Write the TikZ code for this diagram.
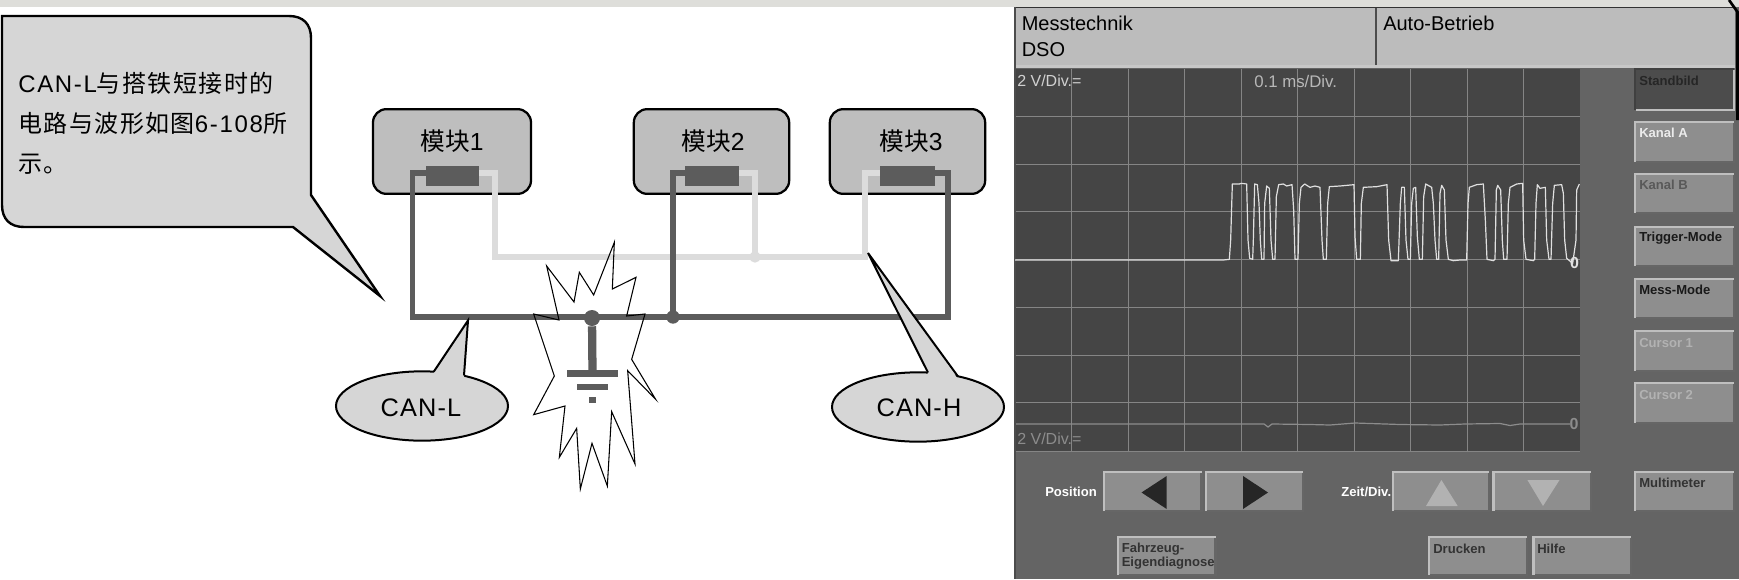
\documentclass[tikz,border=0pt]{standalone}
\usepackage{fontspec}
\setmainfont{Liberation Sans}
\newfontfamily\cjk{Noto Sans CJK SC}
\newfontfamily\cjks[LetterSpace=6]{Noto Sans CJK SC}
\newfontfamily\lats[LetterSpace=7]{Liberation Sans}
\usetikzlibrary{shapes.geometric}
\definecolor{strip}{HTML}{DEDEDA}
\definecolor{bubble}{HTML}{D6D6D6}
\definecolor{modfill}{HTML}{BEBEBE}
\definecolor{darkw}{HTML}{5C5C5C}
\definecolor{lightw}{HTML}{DCDCDC}
\definecolor{header}{HTML}{BCBCBC}
\definecolor{panel}{HTML}{646464}
\definecolor{screen}{HTML}{454545}
\definecolor{gridc}{HTML}{858585}
\definecolor{btnfill}{HTML}{8E8E8E}
\tikzset{
  bubbleline/.style={draw=black,line width=1.8pt,fill=bubble,line join=miter},
  modbox/.style={draw=black,line width=1.7pt,fill=modfill,rounded corners=10pt,minimum width=116.5pt,minimum height=63.5pt,inner sep=0pt},
  chip/.style={fill=darkw,draw=none,inner sep=0pt,minimum width=40pt,minimum height=15pt},
  modlabel/.style={inner sep=0pt,font=\fontsize{18.5}{18.5}\selectfont},
  canl/.style={draw=darkw,line width=3.8pt,line join=miter},
  canh/.style={draw=lightw,line width=3.8pt,line join=miter},
  ell/.style={ellipse,draw=black,line width=1.5pt,fill=bubble,inner sep=0pt,minimum width=129pt,minimum height=52pt},
  elltext/.style={inner sep=0pt,font=\fontsize{19}{19}\selectfont\addfontfeature{LetterSpace=4.5}},
  calltext/.style={anchor=west,inner sep=0pt,font=\fontsize{18}{18}\selectfont},
  headtext/.style={anchor=west,inner sep=0pt,font=\fontsize{15}{15}\selectfont,text=black},
  scrtext/.style={anchor=west,inner sep=0pt,font=\fontsize{12}{12}\selectfont},
  btntext/.style={anchor=west,inner sep=0pt,font=\bfseries\fontsize{9.8}{9.8}\selectfont},
  gridline/.style={draw=gridc,line width=0.75pt},
  btnface/.style={fill=btnfill,draw=none},
}
% name, x1, y1, x2, y2
\newcommand{\panelbtn}[5]{%
  \path[btnface] (#2,#3) rectangle (#4,#5);
  \coordinate (#1) at (#2,#3);
  \draw[draw=black!60,line width=1.6pt] (#2+1,#5) -- (#4,#5) -- (#4,#3+1);
  \draw[draw=black!25,line width=1.6pt] (#2,#5) -- (#2,#3) -- (#4,#3);
}
\newcommand{\pressedbtn}[5]{%
  \path[fill=black!70] (#2,#3) rectangle (#4,#5);
  \coordinate (#1) at (#2,#3);
  \draw[draw=black!25,line width=2pt] (#2+1,#5) -- (#4,#5) -- (#4,#3+1);
  \draw[draw=black!75,line width=1.6pt] (#2,#5) -- (#2,#3) -- (#4,#3);
}
\begin{document}
\begin{tikzpicture}[x=0.75pt,y=-0.75pt]
\useasboundingbox (0,0) rectangle (1739,579);
\fill[white] (0,0) rectangle (1739,579);
\fill[strip] (0,0) rectangle (1739,6.5);
% callout
\path[bubbleline] (2,16) -- (289,16) .. controls (303,16) and (311,24) .. (311,38)
  -- (311,195) -- (380,296) -- (293,227) -- (24,227)
  .. controls (10,227) and (2,219) .. (2,205) -- cycle;
\node[calltext] (c1) at (18,83) {\lats CAN-L\cjks 与搭铁短接时的};
\node[calltext] (c2) at (18,123) {\cjks 电路与波形如图\lats 6-108\cjks 所};
\node[calltext] (c3) at (18,164) {\cjks 示。};
% lightning star, white interior
\begin{scope}[shift={(500,90)},x=0.25pt,y=-0.25pt]
\fill[white] (343,457)--(337,597)--(408,562)--(380,678)--(435,672)--(395,808)--(467,928)--(383,842)--(405,1122)--(335,965)--(322,1188)--(276,1060)--(241,1197)--(230,1015)--(178,1102)--(195,948)--(101,974)--(163,858)--(101,672)--(177,690)--(140,528)--(222,636)--(238,547)--(281,615)--cycle;
\end{scope}
% modules
\node[modbox,minimum width=118.5pt] (m1) at (452,151.5) {};
\node[modbox] (m2) at (711.5,151.5) {};
\node[modbox] (m3) at (907.5,151.5) {};
\node[modlabel] (l1) at (452,141) {\cjk 模块\normalfont 1};
\node[modlabel] (l2) at (713,141) {\cjk 模块\normalfont 2};
\node[modlabel] (l3) at (911,141) {\cjk 模块\normalfont 3};
% wire coordinates
\coordinate (a1) at (412.5,173); \coordinate (b1) at (412.5,317);
\coordinate (a2) at (673,173);   \coordinate (b2) at (673,317);
\coordinate (a3) at (948,173);   \coordinate (b3) at (948,317);
\coordinate (h1) at (495,173);   \coordinate (g1) at (495,257);
\coordinate (h2) at (755,173);   \coordinate (g2) at (755,257);
\coordinate (h3) at (865,173);   \coordinate (g3) at (865,257);
% CAN-H wires
\draw[canh] (445,173) -- (h1) -- (g1) -- (g3) -- (h3) -- (885,173);
\draw[canh] (735,173) -- (h2) -- (g2);
\node[circle,fill=lightw,inner sep=0pt,minimum size=8.5pt] (j2) at (g2) {};
% CAN-L wires
\draw[canl] (430,173) -- (a1) -- (b1) -- (b3) -- (a3) -- (930,173);
\draw[canl] (690,173) -- (a2) -- (b2);
\node[circle,fill=darkw,inner sep=0pt,minimum size=10pt] (j1) at (b2) {};
\node[chip,minimum width=40pt] (i1) at (452.5,176) {};
\node[chip,minimum width=40.5pt] (i2) at (712,176) {};
\node[chip,minimum width=41pt] (i3) at (907.5,176) {};
% star outline
\begin{scope}[shift={(500,90)},x=0.25pt,y=-0.25pt]
\draw[black,line width=0.8pt,line join=miter] (343,457)--(337,597)--(408,562)--(380,678)--(435,672)--(395,808)--(467,928)--(383,842)--(405,1122)--(335,965)--(322,1188)--(276,1060)--(241,1197)--(230,1015)--(178,1102)--(195,948)--(101,974)--(163,858)--(101,672)--(177,690)--(140,528)--(222,636)--(238,547)--(281,615)--cycle;
\end{scope}
% ground
\node[circle,fill=darkw,inner sep=0pt,minimum size=12pt] (gdot) at (592,318) {};
\node[fill=darkw,inner sep=0pt,minimum width=38.5pt,minimum height=5pt] (g1bar) at (592.5,373.5) {};
\node[fill=darkw,inner sep=0pt,minimum width=23pt,minimum height=4.5pt] (g2bar) at (592.5,387) {};
\node[fill=darkw,inner sep=0pt,minimum width=5.5pt,minimum height=4.5pt] (g3bar) at (592.5,400) {};
\draw[draw=darkw,line width=6.2pt] (gdot) -- (g1bar);
% CAN-L bubble
\node[ell] (el) at (422,406) {};
\coordinate (tl) at (468,320.5);
\fill[bubble] (434,373) -- (tl) -- (464,378) -- cycle;
\draw[black,line width=1.5pt,line join=miter] (434,371.3) -- (tl) -- (464,375.5);
\node[elltext] (elt) at (421,408) {CAN-L};
% CAN-H bubble
\node[ell] (eh) at (918,407) {};
\coordinate (th) at (868,253);
\fill[bubble] (928,374) -- (th) -- (958,379) -- cycle;
\draw[black,line width=1.5pt,line join=miter] (928,372.5) -- (th) -- (958,376.5);
\node[elltext] (eht) at (919,408) {CAN-H};
%
% ---------- right panel ----------
\fill[panel] (1014,7) rectangle (1739,579);
\fill[header] (1015,8) rectangle (1735,65);
\fill[black!22] (1015,65) rectangle (1735,68);
\draw[black!80,line width=0.9pt] (1014.5,7.5) -- (1735,7.5);
\draw[black!70,line width=1.5pt] (1014.5,7) -- (1014.5,579);
\draw[black!70,line width=0.9pt] (1376,8) -- (1376,65);
\draw[black,line width=2pt] (1729,0) -- (1737.5,12) -- (1737.5,120);
\node[headtext] (t1) at (1021.5,23) {Messtechnik};
\node[headtext] (t2) at (1021.5,50) {DSO};
\node[headtext] (t3) at (1383,23) {Auto-Betrieb};
% screen
\fill[screen] (1015.5,69) rectangle (1579.5,451);
\foreach \gx in {1071.8,1128.5,1184.8,1241.5,1297.3,1354,1410.3,1467,1523.7}
  \draw[gridline] (\gx,69) -- (\gx,451);
\foreach \gy in {116.7,164.3,211.7,259.3,307.3,355,402.3,451}
  \draw[gridline] (1015.5,\gy) -- (1579.5,\gy);
% lower trace
\draw[black!45,line width=0.9pt] (1016,424) -- (1230,424) -- (1264,424) -- (1268,427) -- (1272,424) -- (1310,424.5) -- (1330,425) -- (1355,423) -- (1400,424.5) -- (1440,425) -- (1465,424) -- (1500,423.5) -- (1510,425.5) -- (1520,424) -- (1570,424);
% upper trace, in units of a 3x crop
\begin{scope}[shift={(1200,170)},x=0.25pt,y=-0.25pt]
\draw[black!12,line width=0.9pt,line join=round]
 (-555,270) -- (70,270) -- (88,268) -- (92,210) -- (97,42) -- (118,42) -- (124,40) -- (140,42)
 -- (144,210) -- (149,265) -- (158,268) -- (160,210) -- (164,42) -- (172,44) -- (177,100)
 -- (181,212) -- (185,268) -- (192,268) -- (194,100) -- (200,48) -- (208,55) -- (213,210)
 -- (218,268) -- (225,268) -- (229,80) -- (236,44) -- (250,42) -- (260,48) -- (276,44)
 -- (281,120) -- (285,268) -- (294,268) -- (298,100) -- (303,52) -- (314,42) -- (330,52) -- (345,48) -- (360,52)
 -- (366,210) -- (370,268) -- (379,268) -- (383,100) -- (388,50) -- (420,48) -- (462,44)
 -- (465,200) -- (470,268) -- (481,268) -- (484,100) -- (490,52) -- (530,50) -- (561,44)
 -- (566,210) -- (573,272) -- (595,272) -- (601,100) -- (605,52) -- (613,52) -- (618,210)
 -- (624,268) -- (631,268) -- (635,100) -- (640,55) -- (647,52) -- (652,200)
 -- (658,268) -- (667,268) -- (671,80) -- (677,42) -- (695,52) -- (700,100) -- (705,210)
 -- (710,268) -- (716,268) -- (720,70) -- (725,46) -- (733,60) -- (738,210)
 -- (745,268) -- (760,272) -- (780,270) -- (800,270) -- (804,100) -- (808,52) -- (830,44) -- (850,42)
 -- (856,150) -- (861,268) -- (880,272) -- (885,268) -- (889,60) -- (893,46) -- (902,60) -- (907,212)
 -- (911,268) -- (921,268) -- (925,100) -- (930,52) -- (950,42) -- (968,40) -- (971,210)
 -- (978,268) -- (1000,272) -- (1004,268) -- (1008,100) -- (1012,44) -- (1020,55) -- (1036,52)
 -- (1040,210) -- (1047,268) -- (1053,268) -- (1058,100) -- (1063,46) -- (1085,44) -- (1090,70) -- (1094,210)
 -- (1100,265) -- (1118,280) -- (1128,210) -- (1130,60) -- (1138,42);
\end{scope}
\node[font=\bfseries\fontsize{12}{12}\selectfont,text=black!12,inner sep=0pt] (z1) at (1574.5,263) {0};
\node[font=\bfseries\fontsize{12}{12}\selectfont,text=black!45,inner sep=0pt] (z2) at (1574,424) {0};
\node[scrtext,text=black!18] (v1) at (1017,81) {2 V/Div.=};
\node[scrtext,text=black!28,font=\fontsize{12.6}{12.6}\selectfont] (v2) at (1254,81) {0.1 ms/Div.};
\node[scrtext,text=black!45] (v3) at (1017,439) {2 V/Div.=};
% side buttons
\pressedbtn{bA}{1635}{69}{1734}{110}
\panelbtn{bB}{1635}{122}{1734}{162}
\panelbtn{bC}{1635}{174}{1734}{213}
\panelbtn{bD}{1635}{227}{1734}{266}
\panelbtn{bE}{1635}{279}{1734}{318}
\panelbtn{bF}{1635}{331}{1734}{371}
\panelbtn{bG}{1635}{383}{1734}{423}
\panelbtn{bH}{1635}{472}{1734}{511}
\node[btntext,text=black!85] (s1) at (1639,81) {Standbild};
\node[btntext,text=black!8] (s2) at (1639,133) {Kanal A};
\node[btntext,text=black!65] (s3) at (1639,185) {Kanal B};
\node[btntext,text=black!90] (s4) at (1639,238) {Trigger-Mode};
\node[btntext,text=black!90] (s5) at (1639,290) {Mess-Mode};
\node[btntext,text=black!30] (s6) at (1639,343) {Cursor 1};
\node[btntext,text=black!30] (s7) at (1639,395) {Cursor 2};
\node[btntext,text=black!80] (s8) at (1639,483) {Multimeter};
% bottom row
\node[btntext,text=white] (p1) at (1045,492) {Position};
\panelbtn{bI}{1104}{472}{1201.5}{511}
\panelbtn{bJ}{1206}{472}{1303}{511}
\fill[black!85] (1141.5,492.5) -- (1166.7,476) -- (1166.7,509) -- cycle;
\fill[black!85] (1268,492.5) -- (1243,476) -- (1243,509) -- cycle;
\node[btntext,text=white] (p2) at (1341,492) {Zeit/Div.};
\panelbtn{bK}{1392.6}{472}{1489}{511}
\panelbtn{bL}{1493.5}{472}{1591}{511}
\fill[black!30] (1441.4,480) -- (1457.7,506) -- (1426,506) -- cycle;
\fill[black!30] (1527.4,480) -- (1559.5,480) -- (1543,506) -- cycle;
\panelbtn{bM}{1118}{537}{1215.5}{575}
\panelbtn{bN}{1429.3}{537}{1527}{575}
\panelbtn{bO}{1533.5}{537}{1631}{575}
\node[btntext,text=black!80] (q1) at (1121.5,549) {Fahrzeug-};
\node[btntext,text=black!80] (q2) at (1121.5,563) {Eigendiagnose};
\node[btntext,text=black!80] (q3) at (1433,549) {Drucken};
\node[btntext,text=black!80] (q4) at (1537,549) {Hilfe};
\end{tikzpicture}
\end{document}
